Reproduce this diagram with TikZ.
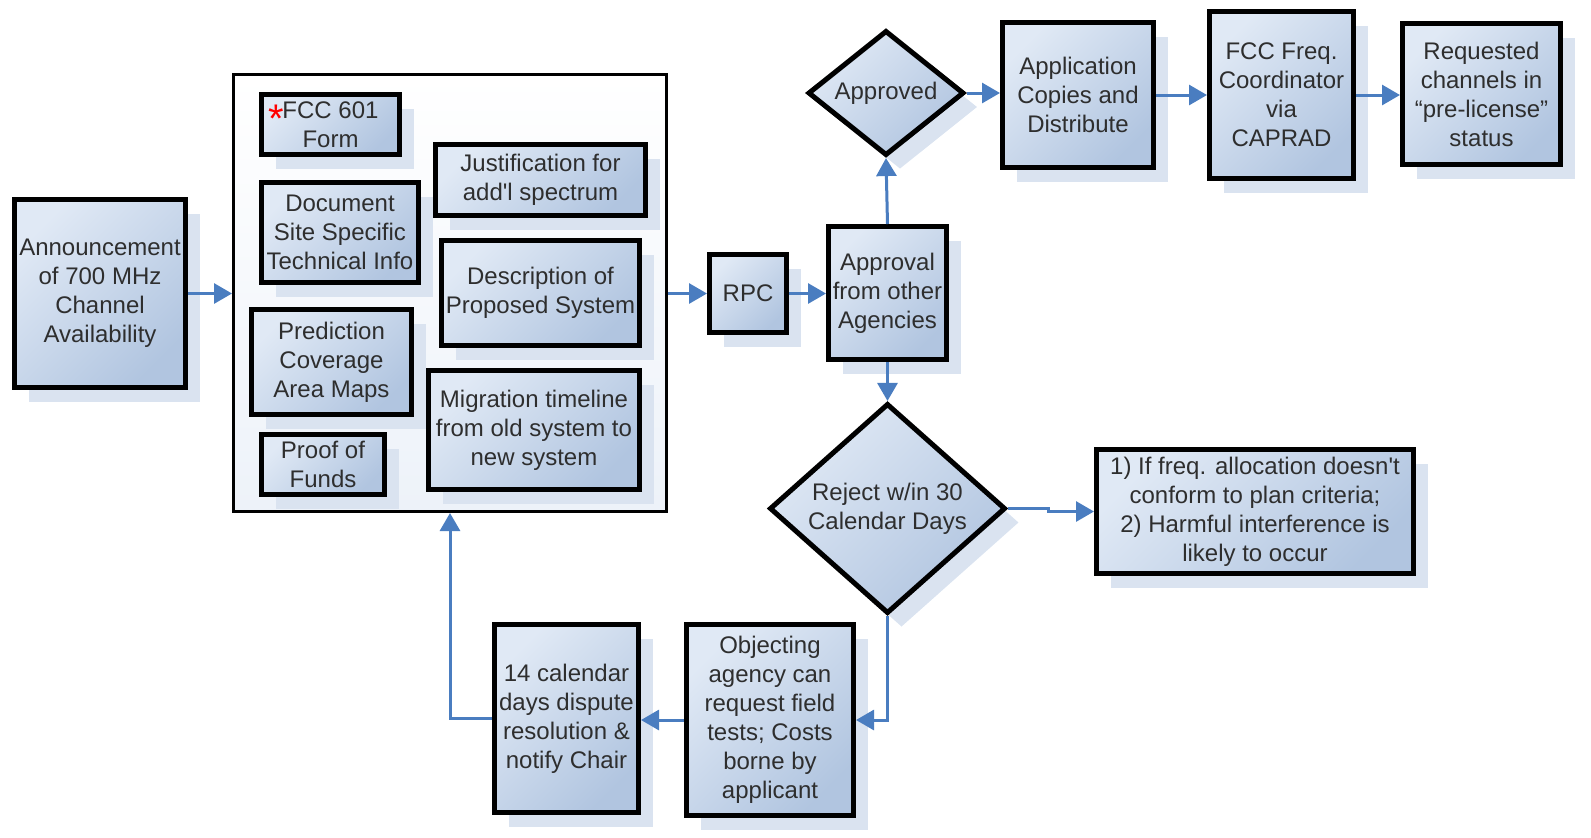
\documentclass[tikz,border=0pt]{standalone}
\usepackage{fontspec}
\setmainfont{Liberation Sans}[Ligatures=TeXOff]
\usetikzlibrary{shapes.geometric,arrows.meta,shadows}
\definecolor{boxtop}{HTML}{E0E9F5}
\definecolor{boxbot}{HTML}{B1C5E0}
\definecolor{shadowc}{HTML}{DAE3F0}
\definecolor{arrowc}{HTML}{4A7DC0}
\definecolor{txtc}{HTML}{2E2E2E}
\definecolor{conbot}{HTML}{EDF2F9}
\tikzset{
  basebox/.style={draw=black, line width=2.5pt, top color=boxtop, bottom color=boxbot, shading angle=45,
    inner sep=0pt, align=center, text=txtc, font=\fontsize{12}{14.5}\selectfont,
    drop shadow={shadow xshift=7pt, shadow yshift=-7pt, fill=shadowc, opacity=1}},
  procbox/.style={basebox, rectangle},
  decbox/.style={basebox, diamond},
  container/.style={draw=black, line width=1.5pt, rectangle, top color=white, bottom color=conbot, inner sep=0pt},
  flow/.style={draw=arrowc, line width=1.5pt, -{Triangle[length=9pt,width=10pt]}},
  starmark/.style={inner sep=0pt, text=red, font=\fontsize{20}{20}\selectfont},
}
\begin{document}
\begin{tikzpicture}[x=0.5pt,y=-0.5pt]
\useasboundingbox (0,0) rectangle (1591,837);
\node[procbox, minimum width=85.5pt, minimum height=94pt] (ann) at (100,293.5) {Announcement\\of 700 MHz\\Channel\\Availability};
\node[container, minimum width=216.5pt, minimum height=218.5pt] (cont) at (450,293) {};
\node[procbox, minimum width=69pt, minimum height=30pt] (fcc) at (330.5,124.5) {FCC 601\\Form};
\node[starmark, anchor=north east] (star) at (284,105) {*};
\node[procbox, minimum width=105pt, minimum height=35.5pt] (just) at (540.5,180) {Justification for\\add'l spectrum};
\node[procbox, minimum width=78.5pt, minimum height=50pt] (doc) at (340,232.5) {Document\\Site Specific\\Technical Info};
\node[procbox, minimum width=99pt, minimum height=52.5pt] (desc) at (540.5,293) {Description of\\Proposed System};
\node[procbox, minimum width=80pt, minimum height=52.5pt] (pred) at (331.5,362) {Prediction\\Coverage\\Area Maps};
\node[procbox, minimum width=105.5pt, minimum height=59.5pt] (mig) at (534,430) {Migration timeline\\from old system to\\new system};
\node[procbox, minimum width=61.5pt, minimum height=30pt] (proof) at (323,464.5) {Proof of\\Funds};
\node[procbox, minimum width=38.5pt, minimum height=39pt] (rpc) at (748,293.5) {RPC};
\node[procbox, minimum width=59pt, minimum height=66.5pt] (appr) at (887.5,293) {Approval\\from other\\Agencies};
\node[decbox, minimum width=78pt, minimum height=59.5pt] (ok) at (886,93) {Approved};
\node[procbox, minimum width=75.5pt, minimum height=72.5pt] (app) at (1078,95) {Application\\Copies and\\Distribute};
\node[procbox, minimum width=72pt, minimum height=83.5pt] (coord) at (1281.5,95) {FCC Freq.\\Coordinator\\via\\CAPRAD};
\node[procbox, minimum width=79pt, minimum height=70.5pt] (req) at (1481.5,94) {Requested\\channels in\\“pre-license”\\status};
\node[decbox, minimum width=118pt, minimum height=76pt] (rej) at (887.5,508.5) {Reject w/in 30\\Calendar Days};
\node[procbox, minimum width=158.5pt, minimum height=62pt] (freq) at (1255,511.5) {1) If freq. allocation doesn't\\conform to plan criteria;\\2) Harmful interference is\\likely to occur};
\node[procbox, minimum width=83.5pt, minimum height=95.5pt] (obj) at (770,720) {Objecting\\agency can\\request field\\tests; Costs\\borne by\\applicant};
\node[procbox, minimum width=72pt, minimum height=94pt] (cal) at (566.5,718.5) {14 calendar\\days dispute\\resolution \&\\notify Chair};
\draw[flow] (ann.east) -- (ann.east -| cont.west);
\draw[flow] (rpc.west -| cont.east) -- (rpc.west);
\draw[flow] (rpc.east) -- (rpc.east -| appr.west);
\draw[flow] (appr.north) -- (ok.south);
\draw[flow] (ok.east) -- (ok.east -| app.west);
\draw[flow] (app.east) -- (app.east -| coord.west);
\draw[flow] (coord.east) -- (coord.east -| req.west);
\draw[flow] (appr.south) -- (rej.north);
\draw[flow] (rej.east) -- ++(40,0) |- (freq.west);
\draw[flow] (rej.south) |- (obj.east);
\draw[flow] (obj.west) -- (obj.west -| cal.east);
\draw[flow] (cal.west) -| (cont.south);
\end{tikzpicture}
\end{document}
